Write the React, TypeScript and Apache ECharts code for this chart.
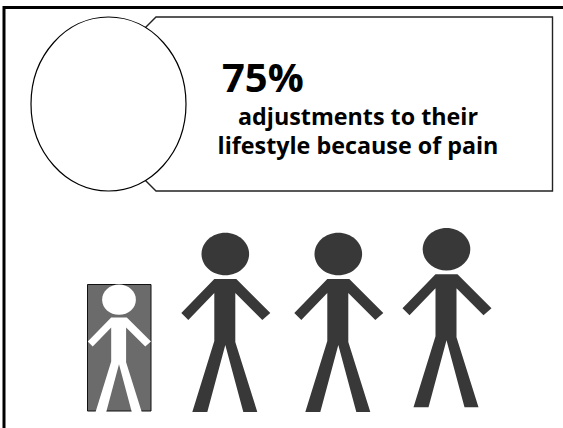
import React, { useEffect, useRef } from "react";
import * as echarts from "echarts";

// Headline figure and its caption
const headline = "75%";
const captionLines = ["adjustments to their", "lifestyle because of pain"];

// One stick figure stands for a quarter of the respondents
const sharePercent = 75;
const peopleShown = 4;

// Figure outline relative to the head centre
const bodyOutline = [
  [-11, 25], [11, 25], [45, 59], [37, 66], [10, 39], [10, 88], [32, 158],
  [18, 158], [0, 91], [-18, 158], [-33, 158], [-11, 87], [-11, 39], [-37, 66], [-44, 59],
];

// Head centres and scale, left to right
const figureX = [119, 225.3, 338.3, 446.5];
const figureY = [299.7, 254, 254, 249.2];
const figureScale = [0.71, 1, 1, 1];

const DARK = "#383838";

function person(i: number, fill: string): any {
  return {
    type: "group",
    x: figureX[i],
    y: figureY[i],
    scaleX: figureScale[i],
    scaleY: figureScale[i],
    silent: true,
    children: [
      { type: "ellipse", shape: { cx: 0, cy: 0, rx: 23.8, ry: 21.3 }, style: { fill } },
      { type: "polygon", shape: { points: bodyOutline }, style: { fill } },
    ],
  };
}

export default function App() {
  const ref = useRef<HTMLDivElement>(null);

  useEffect(() => {
    document.body.style.margin = "0";
    const chart = echarts.init(ref.current!, undefined, { renderer: "svg" });
    const darkCount = Math.round((sharePercent / 100) * peopleShown);
    const firstDark = peopleShown - darkCount;
    const people: any[] = [];
    for (let i = 0; i < peopleShown; i++) {
      people.push(person(i, i < firstDark ? "#ffffff" : DARK));
    }
    const font = "Open Sans, Lato, sans-serif";
    chart.setOption({
      animation: false,
      backgroundColor: "#ffffff",
      graphic: [
        // Page frame: only the top and left rules are on the canvas
        {
          type: "polyline",
          silent: true,
          shape: { points: [[4, 428], [4, 7.5], [563, 7.5]] },
          style: { fill: "none", stroke: "#000000", lineWidth: 3 },
        },
        {
          type: "polygon",
          silent: true,
          shape: {
            points: [[156, 17], [552.5, 17], [552.5, 191], [156, 191], [130, 165], [130, 43]],
          },
          style: { fill: "#ffffff", stroke: "#222222", lineWidth: 1.4 },
        },
        {
          type: "ellipse",
          silent: true,
          shape: { cx: 108.5, cy: 104, rx: 77.5, ry: 87 },
          style: { fill: "#ffffff", stroke: "#000000", lineWidth: 1.2 },
        },
        {
          type: "text",
          x: 222,
          y: 76,
          style: { text: headline, font: `bold 40px ${font}`, fill: "#000000", verticalAlign: "middle" },
        },
        {
          type: "text",
          x: 358,
          y: 116,
          style: { text: captionLines[0], font: `bold 23.3px ${font}`, fill: "#000000", align: "center", verticalAlign: "middle" },
        },
        {
          type: "text",
          x: 358,
          y: 145,
          style: { text: captionLines[1], font: `bold 23.3px ${font}`, fill: "#000000", align: "center", verticalAlign: "middle" },
        },
        {
          type: "rect",
          silent: true,
          shape: { x: 87.5, y: 284.5, width: 63.5, height: 126.5 },
          style: { fill: "#6b6b6b", stroke: "#111111", lineWidth: 1 },
        },
        ...people,
      ],
    });
    return () => chart.dispose();
  }, []);

  return <div ref={ref} style={{ width: 563, height: 428 }} />;
}
